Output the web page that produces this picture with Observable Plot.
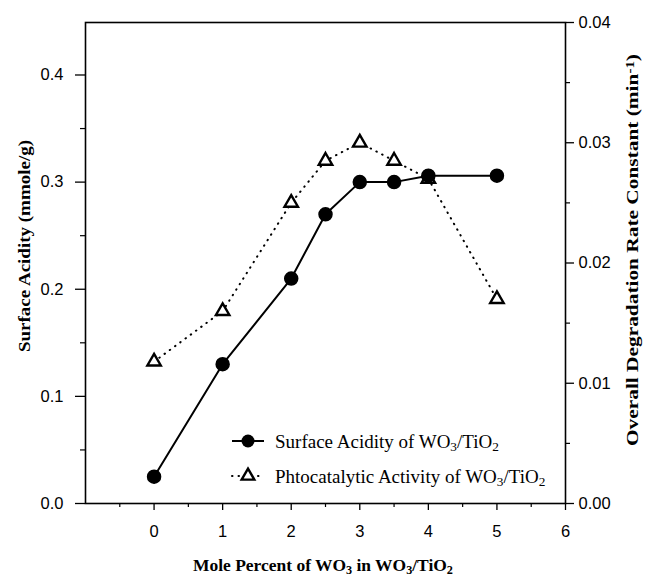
<!DOCTYPE html>
<html>
<head>
<meta charset="utf-8">
<script src="https://cdn.jsdelivr.net/npm/d3@7"></script>
<script src="https://cdn.jsdelivr.net/npm/@observablehq/plot@0.6"></script>
<style>
  html, body { margin: 0; padding: 0; background: white; }
  #chart { position: relative; width: 646px; height: 580px; }
</style>
</head>
<body>
<div id="chart"></div>
<script>
// ---- data ----
const molePercent = [0, 1, 2, 2.5, 3, 3.5, 4, 5];
const surfaceAcidity = [0.025, 0.13, 0.21, 0.27, 0.30, 0.30, 0.306, 0.306];
const degradationRate = [0.0118, 0.016, 0.025, 0.0285, 0.030, 0.0285, 0.027, 0.017];

const xTicks = [0, 1, 2, 3, 4, 5, 6];
const xMinorTicks = [-0.5, 0.5, 1.5, 2.5, 3.5, 4.5, 5.5];
const leftTicks = [0.0, 0.1, 0.2, 0.3, 0.4];
const leftMinorTicks = [0.05, 0.15, 0.25, 0.35];
const rightTicks = [0.00, 0.01, 0.02, 0.03, 0.04];
const rightMinorTicks = [0.005, 0.015, 0.025, 0.035];

const xDomain = [-1, 6];
const leftDomain = [0, 0.449];
const rightDomain = [0, 0.04];
const k = leftDomain[1] / rightDomain[1];

const acid = molePercent.map((x, i) => ({x, y: surfaceAcidity[i]}));
const rate = molePercent.map((x, i) => ({x, y: degradationRate[i] * k}));

const W = 646, H = 580;
const mL = 85, mR = 81, mT = 22, mB = 77;
const tickFont = 16.5;

const plot = Plot.plot({
  width: W, height: H,
  marginLeft: mL, marginRight: mR, marginTop: mT, marginBottom: mB,
  x: {domain: xDomain},
  y: {domain: leftDomain},
  style: {fontFamily: "'Liberation Sans', Arial, sans-serif", fontSize: "16.5px", color: "black", background: "white"},
  marks: [
    Plot.axisX({ticks: xTicks, tickSize: 7, tickPadding: 15, fontSize: tickFont, tickFormat: d => String(d), label: null, strokeWidth: 1.3}),
    Plot.axisX({ticks: xMinorTicks, tickSize: 4, tickFormat: () => "", label: null, strokeWidth: 1.2}),
    Plot.axisY({ticks: leftTicks, tickSize: 10, tickPadding: 12, fontSize: tickFont, tickFormat: d => d.toFixed(1), label: null, strokeWidth: 1.3}),
    Plot.axisY({ticks: leftMinorTicks, tickSize: 5, tickFormat: () => "", label: null, strokeWidth: 1.2}),
    Plot.axisY({anchor: "right", ticks: rightTicks.map(v => v * k), tickSize: 8, tickPadding: 5, fontSize: tickFont,
      tickFormat: d => (d / k).toFixed(2), label: null, strokeWidth: 1.3}),
    Plot.axisY({anchor: "right", ticks: rightMinorTicks.map(v => v * k), tickSize: 4,
      tickFormat: () => "", label: null, strokeWidth: 1.2}),
    Plot.frame({stroke: "black", strokeWidth: 1.6}),
    Plot.line(rate, {x: "x", y: "y", stroke: "black", strokeWidth: 2, strokeDasharray: "0.5,6", strokeLinecap: "round"}),
    Plot.line(acid, {x: "x", y: "y", stroke: "black", strokeWidth: 2}),
    Plot.dot(rate, {x: "x", y: "y", symbol: "triangle", r: 5, fill: "white", stroke: "black", strokeWidth: 2.4}),
    Plot.dot(acid, {x: "x", y: "y", r: 6.5, fill: "black", stroke: "black"})
  ]
});

document.getElementById("chart").appendChild(plot);

const svg = d3.select(plot);
const serif = "'Liberation Serif', 'Times New Roman', serif";

// helper to write text with sub/superscripts
function richText(sel, parts) {
  parts.forEach(p => {
    const t = sel.append("tspan").text(p.t);
    if (p.sub) t.attr("baseline-shift", "-25%").attr("font-size", "70%");
    if (p.sup) t.attr("baseline-shift", "35%").attr("font-size", "70%");
  });
}

// x title
const xt = svg.append("text")
  .attr("x", 323).attr("y", 571)
  .attr("text-anchor", "middle")
  .attr("textLength", 260).attr("lengthAdjust", "spacingAndGlyphs")
  .attr("font-family", serif).attr("font-weight", "bold").attr("font-size", 17);
richText(xt, [{t: "Mole Percent of WO"}, {t: "3", sub: true}, {t: " in WO"}, {t: "3", sub: true}, {t: "/TiO"}, {t: "2", sub: true}]);

// left y title
const yt = svg.append("text")
  .attr("transform", `translate(24, 246) rotate(-90)`)
  .attr("text-anchor", "middle").attr("dy", "0.35em")
  .attr("textLength", 212).attr("lengthAdjust", "spacingAndGlyphs")
  .attr("font-family", serif).attr("font-weight", "bold").attr("font-size", 17);
richText(yt, [{t: "Surface Acidity (mmole/g)"}]);

// right y title
const rt = svg.append("text")
  .attr("transform", `translate(632, 250) rotate(-90)`)
  .attr("text-anchor", "middle").attr("dy", "0.35em")
  .attr("textLength", 392).attr("lengthAdjust", "spacingAndGlyphs")
  .attr("font-family", serif).attr("font-weight", "bold").attr("font-size", 17);
richText(rt, [{t: "Overall Degradation Rate Constant (min"}, {t: "-1", sup: true}, {t: ")"}]);

// legend
const lg = svg.append("g");
const rows = [
  {y: 441, dash: null, label: [{t: "Surface Acidity of WO"}, {t: "3", sub: true}, {t: "/TiO"}, {t: "2", sub: true}], sym: "circle"},
  {y: 476, dash: "0.5,6", label: [{t: "Phtocatalytic Activity of WO"}, {t: "3", sub: true}, {t: "/TiO"}, {t: "2", sub: true}], sym: "triangle"}
];
rows.forEach(r => {
  const ln = lg.append("line").attr("x1", 232).attr("x2", 264).attr("y1", r.y).attr("y2", r.y)
    .attr("stroke", "black").attr("stroke-width", 2)
    .attr("stroke-linecap", r.dash ? "round" : "butt");
  if (r.dash) ln.attr("stroke-dasharray", r.dash);
  if (r.sym === "circle") {
    lg.append("circle").attr("cx", 248).attr("cy", r.y).attr("r", 6.5).attr("fill", "black");
  } else {
    lg.append("path").attr("d", d3.symbol(d3.symbolTriangle, 70)()).attr("transform", `translate(248, ${r.y})`)
      .attr("fill", "white").attr("stroke", "black").attr("stroke-width", 2.4);
  }
  const t = lg.append("text").attr("x", 275).attr("y", r.y).attr("dy", "0.35em")
    .attr("text-anchor", "start")
    .attr("font-family", serif).attr("font-size", 19);
  richText(t, r.label);
});
</script>
</body>
</html>
